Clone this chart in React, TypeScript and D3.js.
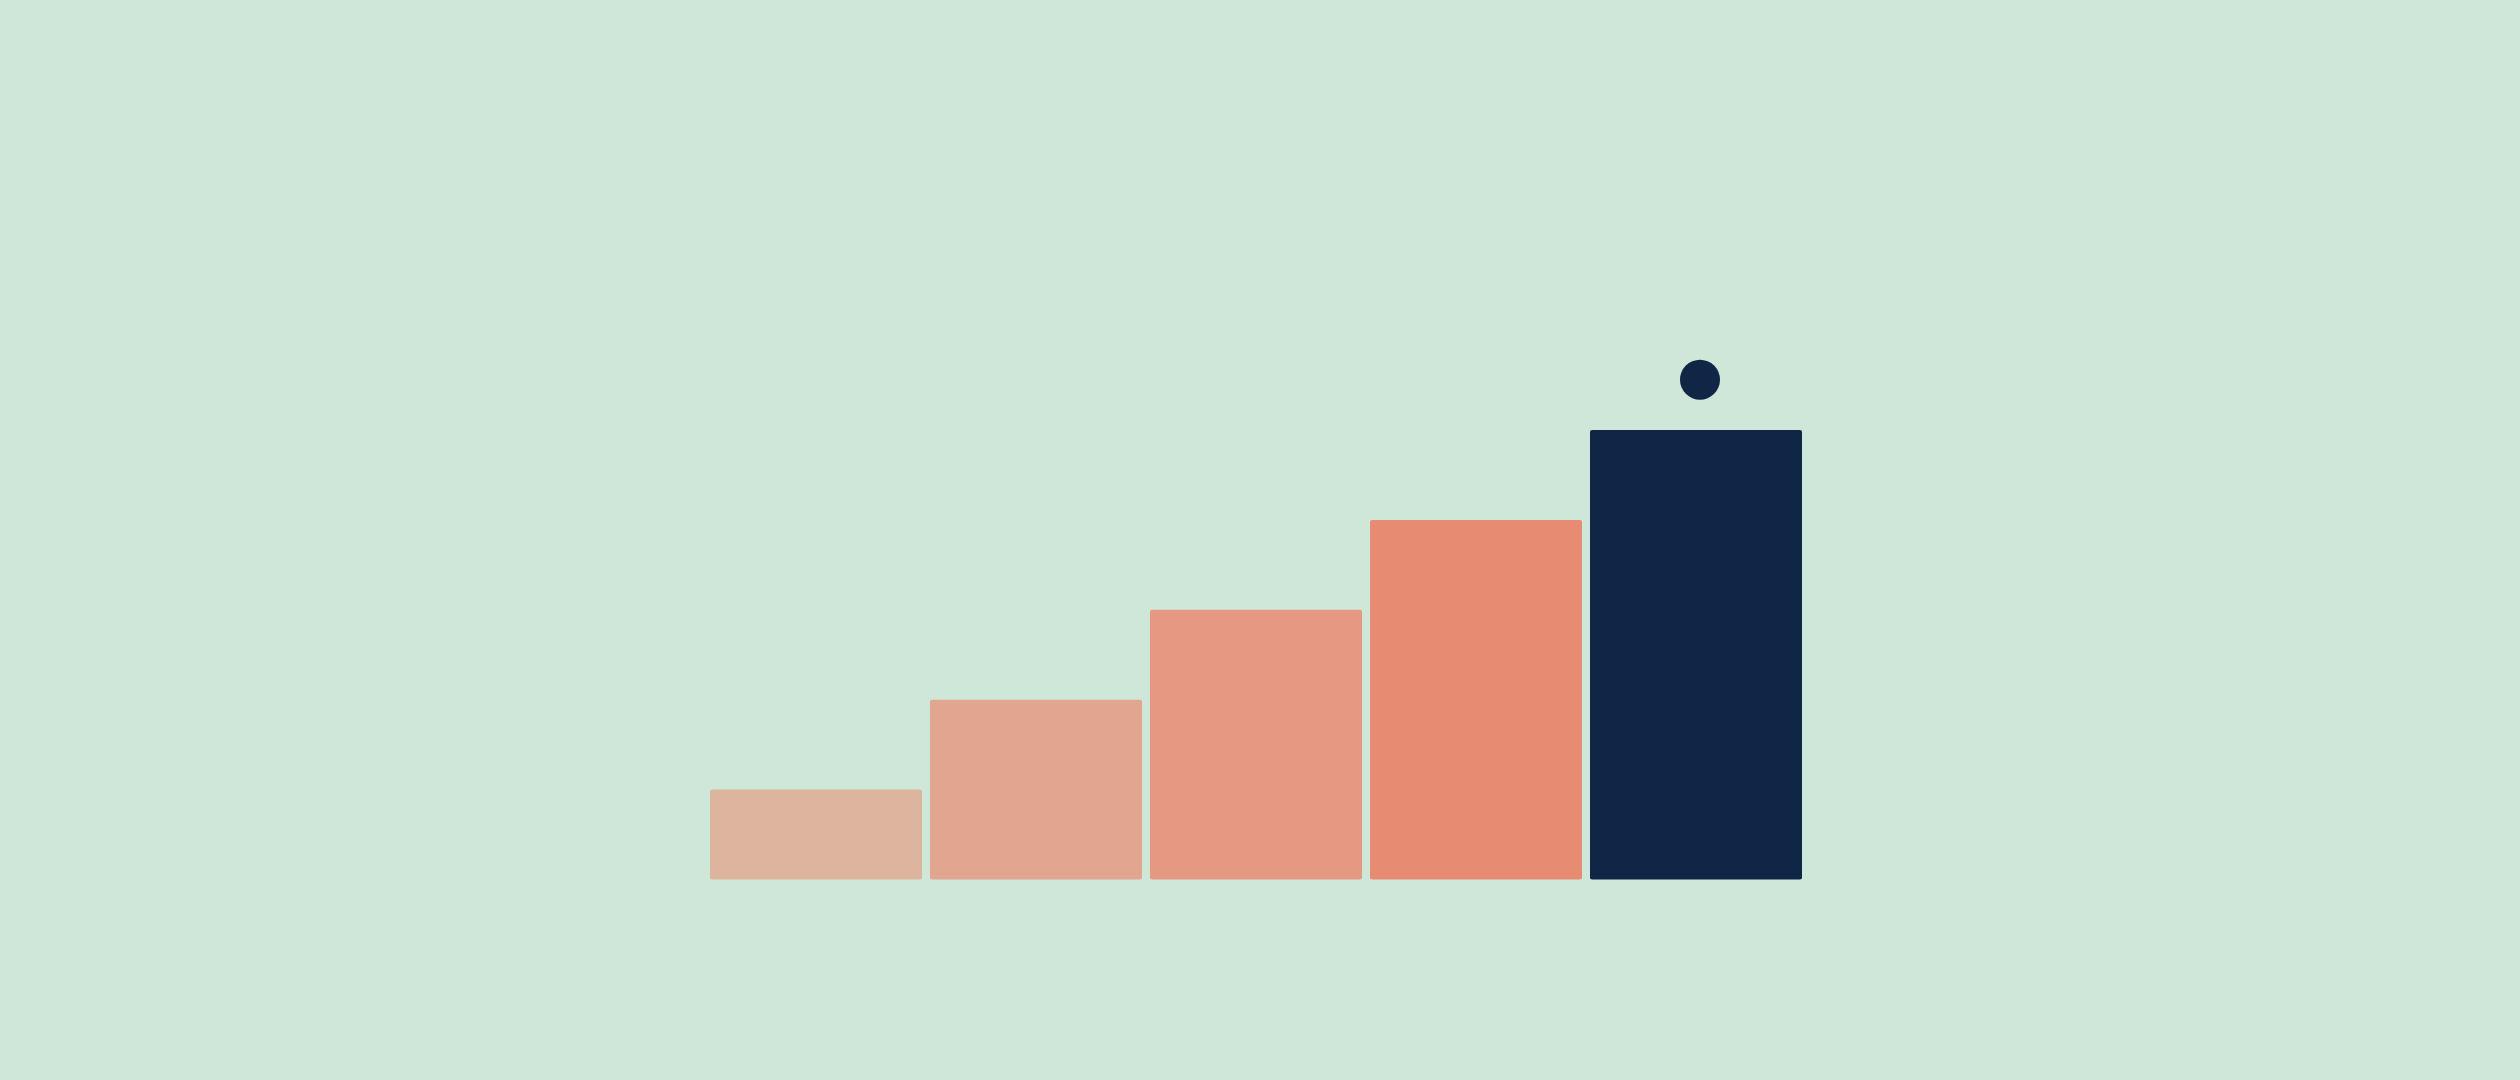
import React from "react";
import * as d3 from "d3";

const categories = ["A", "B", "C", "D", "E"];
const values = [1, 2, 3, 4, 5];
const barColors = ["#DDB49D", "#E2A690", "#E59982", "#E88B73", "#0F2646"];
const dotCategory = "E";
const dotValue = 5.56;

const W = 2520;
const H = 1080;

export default function App() {
  const x = d3
    .scaleBand<string>()
    .domain(categories)
    .range([710, 1802])
    .paddingInner(8 / 220)
    .paddingOuter(0);
  const y = d3.scaleLinear().domain([0, 5]).range([879.5, 430]);

  return (
    <div style={{ position: "fixed", left: 0, top: 0, width: W, height: H, background: "#CFE7D8" }}>
      <svg width={W} height={H} style={{ display: "block" }}>
        <rect x={0} y={0} width={W} height={H} fill="#CFE7D8" />
        {categories.map((c, i) => (
          <rect
            key={c}
            x={x(c)}
            y={y(values[i])}
            width={x.bandwidth()}
            height={y(0) - y(values[i])}
            rx={2}
            ry={2}
            fill={barColors[i]}
          />
        ))}
        <circle
          cx={(x(dotCategory) as number) + x.bandwidth() / 2 + 4}
          cy={y(dotValue)}
          r={20}
          fill="#0F2646"
        />
      </svg>
    </div>
  );
}
